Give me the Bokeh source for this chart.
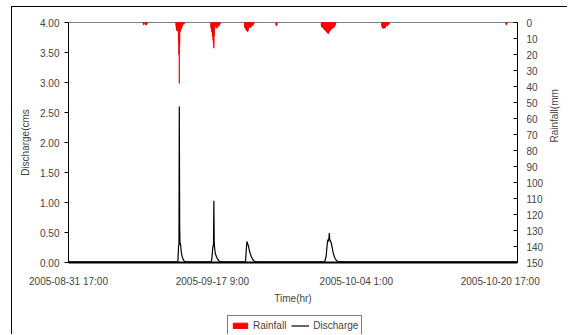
import math
from bokeh.plotting import figure
from bokeh.layouts import column
from bokeh.models import (Range1d, LinearAxis, FixedTicker, Legend, LegendItem,
                          ColumnDataSource)
from bokeh.embed import file_html
from bokeh.resources import INLINE

FONT = "Liberation Sans"

# ---- data (hours since 2005-08-31 17:00) ----
x_tick_hours = [0, 400, 800, 1200]
x_tick_labels = ["2005-08-31 17:00", "2005-09-17 9:00", "2005-10-04 1:00", "2005-10-20 17:00"]
y_ticks = [0, 0.5, 1.0, 1.5, 2.0, 2.5, 3.0, 3.5, 4.0]
rain_ticks = list(range(0, 160, 10))

rain_hours = [208, 209, 210, 214, 215, 216, 217, 218,
              299, 300, 301, 302, 303, 304, 305, 306, 307, 308, 309, 310, 311, 312, 313, 314, 315, 316, 317, 318, 320, 321,
              396, 397, 398, 399, 400, 401, 402, 403, 404, 405, 406, 407, 408, 409,
              411, 412, 413, 414, 415, 416, 417, 418, 419, 420, 421,
              490, 491, 492, 493, 494, 495, 496, 497, 498, 499, 500, 501, 502, 503, 504, 505, 506, 507, 508, 509, 510, 511, 512, 513, 514, 515,
              577, 578, 579,
              703, 704, 705, 706, 707, 708, 709, 710, 711, 712, 713, 714, 715, 716, 717, 718, 719, 720, 721, 722,
              723, 724, 725, 726, 727, 728, 729, 730, 731, 732, 733, 734, 735, 736, 737, 738, 739, 740, 741, 742,
              871, 872, 873, 874, 875, 876, 877, 878, 879, 880, 881, 882, 883, 884, 885, 886, 887, 888, 889, 890, 891,
              1216, 1217, 1218]
rain_mm = [1, 1.5, 1, 1, 1.5, 1.5, 1, 1,
           2, 4, 5, 5, 3, 4, 6, 12, 20, 38, 14, 6, 5, 4, 3, 4, 3, 2, 2, 1, 1, 1,
           3, 4, 5, 6, 7, 9, 11, 13, 16, 8, 4, 3, 2, 2,
           2, 3.5, 3, 2, 3, 2, 1, 1, 2, 1, 1,
           3, 3, 4, 4, 4, 5, 5, 5.5, 5.5, 5, 4, 3, 3, 3, 2.5, 3, 3, 3, 2, 2, 2, 1.5, 2, 1, 1, 1,
           1.5, 2, 1.5,
           2, 2.5, 3, 3, 3, 3.5, 3.5, 4, 4, 4.5, 4.5, 5, 5, 5.5, 5.5, 6, 6, 6.5, 6.5, 7,
           6.5, 6, 5.5, 5, 5, 4.5, 4.5, 4, 4, 4, 3.5, 3.5, 3, 3, 3, 2.5, 2.5, 2, 1.5, 1,
           2, 3, 3.5, 3.5, 3.5, 3.5, 3.5, 3, 3, 3.5, 2.5, 2, 2, 2, 1.5, 2, 1.5, 1.5, 1, 1, 1,
           1, 1.5, 1]

q_hours = [0, 304, 306, 307, 308, 309, 310, 311, 312, 313, 315, 318, 322, 326,
           397, 399, 401, 403, 404, 405, 406, 408, 411, 415, 420, 425,
           492, 494, 496, 498, 500, 502, 505, 508, 512, 517, 522,
           712, 716, 719, 721, 723, 725, 726, 728, 730, 733, 736, 740, 745, 753, 1248]
q_cms = [0.01, 0.01, 0.28, 0.3, 2.6, 0.6, 0.3, 0.32, 0.27, 0.2, 0.12, 0.06, 0.02, 0.01,
         0.01, 0.1, 0.25, 0.3, 1.03, 0.35, 0.25, 0.15, 0.1, 0.05, 0.02, 0.01,
         0.01, 0.2, 0.35, 0.31, 0.28, 0.22, 0.15, 0.1, 0.05, 0.02, 0.01,
         0.01, 0.1, 0.3, 0.38, 0.35, 0.49, 0.38, 0.36, 0.33, 0.25, 0.15, 0.08, 0.03, 0.01, 0.01]

# page geometry: chart box border at x=11, y=6; main figure ends at y=312, legend strip below
OFF_X, OFF_Y = 12, 7
W = 568 - OFF_X
H_MAIN = 312 - OFF_Y
H_LEG = 335 - 312

p = figure(width=W, height=H_MAIN, output_backend="svg", toolbar_location=None,
           x_range=Range1d(0, 1248), y_range=Range1d(0, 4),
           min_border_left=68 - OFF_X, min_border_right=49,
           min_border_top=22 - OFF_Y, min_border_bottom=312 - 262,
           background_fill_color="white", border_fill_color="white")
p.margin = (6, 0, 0, 11)
p.styles = {"border-left": "1px solid black", "border-top": "1px solid black"}
p.outline_line_color = "#808080"
p.outline_line_width = 1
p.xgrid.visible = False
p.ygrid.visible = False

p.extra_y_ranges = {"rain": Range1d(150, 0)}

rsrc = ColumnDataSource(dict(x=rain_hours, top=[0] * len(rain_mm), bottom=rain_mm))
p.vbar(x="x", width=1, top="top", bottom="bottom", source=rsrc,
       fill_color="#FF0000", line_color="#FF0000", line_width=0.8, y_range_name="rain")
qsrc = ColumnDataSource(dict(x=q_hours, y=q_cms))
p.line("x", "y", source=qsrc, line_color="black", line_width=1.2)

# x axis
xa = p.xaxis[0]
xa.ticker = FixedTicker(ticks=x_tick_hours)
xa.major_label_overrides = {h: s for h, s in zip(x_tick_hours, x_tick_labels)}
xa.major_tick_line_color = None
xa.major_tick_out = 0
xa.major_tick_in = 0
xa.minor_tick_line_color = None
xa.axis_line_color = "black"
xa.axis_line_width = 2
xa.major_label_standoff = 13
xa.axis_label = "Time(hr)"
xa.axis_label_standoff = 3
xa.major_label_text_font = FONT
xa.major_label_text_font_size = "10px"
xa.axis_label_text_font = FONT
xa.axis_label_text_font_size = "10px"
xa.axis_label_text_font_style = "normal"

ya = p.yaxis[0]
ya.ticker = FixedTicker(ticks=y_ticks)
ya.major_label_overrides = {t: "%.2f" % t for t in y_ticks}
ya.major_tick_out = 4
ya.major_tick_in = 0
ya.minor_tick_line_color = None
ya.major_label_standoff = 5
ya.axis_label = "Discharge(cms"
ya.axis_label_standoff = 6
ya.major_label_text_font = FONT
ya.major_label_text_font_size = "10px"
ya.axis_label_text_font = FONT
ya.axis_label_text_font_size = "10px"
ya.axis_label_text_font_style = "normal"

ra = LinearAxis(y_range_name="rain", ticker=FixedTicker(ticks=rain_ticks))
ra.major_tick_out = 0
ra.major_tick_in = 4
ra.minor_tick_line_color = None
ra.major_label_standoff = 9
ra.major_label_text_font = FONT
ra.major_label_text_font_size = "10px"
ra.axis_label = "Rainfall(mm"
ra.axis_label_standoff = 8
ra.axis_label_text_font = FONT
ra.axis_label_text_font_size = "10px"
ra.axis_label_text_font_style = "normal"
ra.axis_label_text_align = "center"
if "axis_label_orientation" in ra.properties():
    ra.axis_label_orientation = math.pi / 2
p.add_layout(ra, "right")

# legend strip (its own small figure, same glyph styles; one hidden sample each)
lg = figure(width=W, height=H_LEG, output_backend="svg", toolbar_location=None,
            x_range=Range1d(0, 1), y_range=Range1d(0, 1),
            x_axis_location=None, y_axis_location=None,
            min_border_left=0, min_border_right=0, min_border_top=0, min_border_bottom=0,
            background_fill_color="white", border_fill_color="white")
lg.margin = (0, 0, 0, 11)
lg.styles = {"border-left": "1px solid black"}
lg.outline_line_color = None
lg.xgrid.visible = False
lg.ygrid.visible = False
r_leg = lg.vbar(x=[-5], width=0.1, top=[-5], bottom=[-6], fill_color="#FF0000", line_color="#FF0000")
q_leg = lg.line(x=[-5, -4], y=[-5, -5], line_color="black", line_width=1.2)

legend = Legend(items=[LegendItem(label="Rainfall", renderers=[r_leg]),
                       LegendItem(label="Discharge", renderers=[q_leg])],
                location=(159, -1), orientation="horizontal",
                border_line_color="black", border_line_width=1,
                background_fill_color="white", background_fill_alpha=1,
                label_text_font=FONT, label_text_font_size="10px",
                glyph_width=18, glyph_height=7, label_standoff=4, spacing=5,
                padding=3, margin=0, label_height=12)
lg.add_layout(legend, "center")

layout = column(p, lg, spacing=0)
open("out.html", "w").write(file_html(layout, INLINE))
